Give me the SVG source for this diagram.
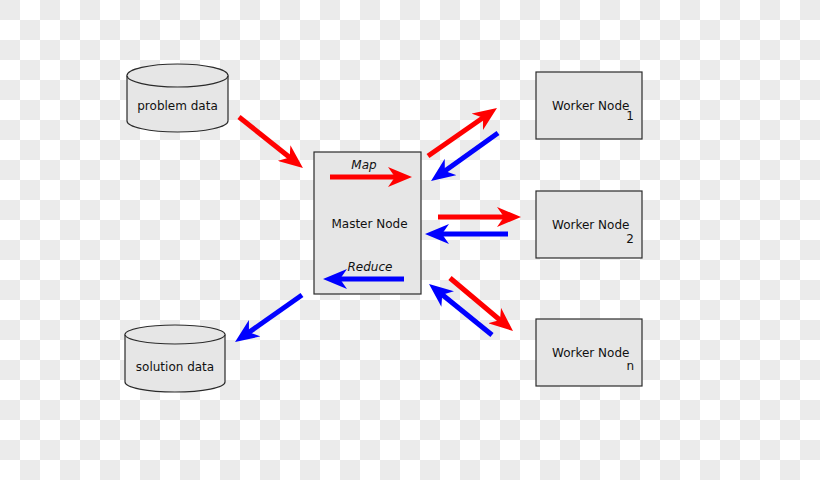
<svg xmlns="http://www.w3.org/2000/svg" width="820" height="480" viewBox="0 0 820 480">
<style>
.shape{fill:#e6e6e6;stroke:#2b2b2b;stroke-width:1.2}
.lbl{font-family:"DejaVu Sans",sans-serif;font-size:12px;fill:#111}
.it{font-style:italic}
.r{stroke:#ff0000;stroke-width:5;fill:none;marker-end:url(#ahR)}
.b{stroke:#0000ff;stroke-width:5;fill:none;marker-end:url(#ahB)}
</style>
<defs>
<pattern id="chk" width="40" height="40" patternUnits="userSpaceOnUse">
<rect width="40" height="40" fill="#ffffff"/>
<rect x="0" y="0" width="20" height="20" fill="#ebebeb"/>
<rect x="20" y="20" width="20" height="20" fill="#ebebeb"/>
</pattern>
<marker id="ahR" viewBox="0 0 24 20" refX="10" refY="10" markerWidth="24" markerHeight="20" markerUnits="userSpaceOnUse" orient="auto">
<path d="M0,0 L24,10 L0,20 L7,10 Z" fill="#ff0000"/>
</marker>
<marker id="ahB" viewBox="0 0 24 20" refX="10" refY="10" markerWidth="24" markerHeight="20" markerUnits="userSpaceOnUse" orient="auto">
<path d="M0,0 L24,10 L0,20 L7,10 Z" fill="#0000ff"/>
</marker>
</defs>
<rect width="820" height="480" fill="url(#chk)"/>

<g id="problem-data">
<path class="shape" d="M127,75.5 L127,121 A50.5,11 0 0 0 228,121 L228,75.5 A50.5,11.5 0 0 0 127,75.5 Z"/>
<path class="shape" d="M127,75.5 A50.5,11.5 0 0 0 228,75.5" fill="none"/>
<text class="lbl" x="177.5" y="110" text-anchor="middle">problem data</text>
</g>

<g id="solution-data">
<path class="shape" d="M125,334.5 L125,382 A50,10 0 0 0 225,382 L225,334.5 A50,9.5 0 0 0 125,334.5 Z"/>
<path class="shape" d="M125,334.5 A50,9.5 0 0 0 225,334.5" fill="none"/>
<text class="lbl" x="175" y="370.5" text-anchor="middle">solution data</text>
</g>

<g id="master-node">
<rect class="shape" x="314" y="152" width="107" height="142"/>
<text class="lbl" x="369.5" y="228" text-anchor="middle">Master Node</text>
<text class="lbl it" x="364" y="169" text-anchor="middle">Map</text>
<text class="lbl it" x="370" y="271" text-anchor="middle">Reduce</text>
</g>

<g id="worker-1">
<rect class="shape" x="536" y="72" width="106" height="67"/>
<text class="lbl" x="552" y="110">Worker Node</text>
<text class="lbl" x="634" y="120" text-anchor="end">1</text>
</g>

<g id="worker-2">
<rect class="shape" x="536" y="191" width="106" height="67"/>
<text class="lbl" x="552" y="229">Worker Node</text>
<text class="lbl" x="634" y="243" text-anchor="end">2</text>
</g>

<g id="worker-n">
<rect class="shape" x="536" y="319" width="106" height="67"/>
<text class="lbl" x="552" y="357">Worker Node</text>
<text class="lbl" x="634" y="370" text-anchor="end">n</text>
</g>

<g id="connectors">
<line class="r" x1="239" y1="117" x2="292" y2="159.3"/>
<line class="b" x1="302" y1="295" x2="246.5" y2="334"/>
<line class="r" x1="428" y1="156" x2="485.5" y2="116"/>
<line class="b" x1="498" y1="133" x2="442.4" y2="172.8"/>
<line class="r" x1="438" y1="217" x2="507" y2="217"/>
<line class="b" x1="508" y1="234" x2="439" y2="234"/>
<line class="r" x1="450" y1="278" x2="502.3" y2="322"/>
<line class="b" x1="492" y1="335" x2="439.9" y2="292.8"/>
<line class="r" x1="330" y1="177" x2="398" y2="177"/>
<line class="b" x1="404" y1="279" x2="337" y2="279"/>
</g>
</svg>
